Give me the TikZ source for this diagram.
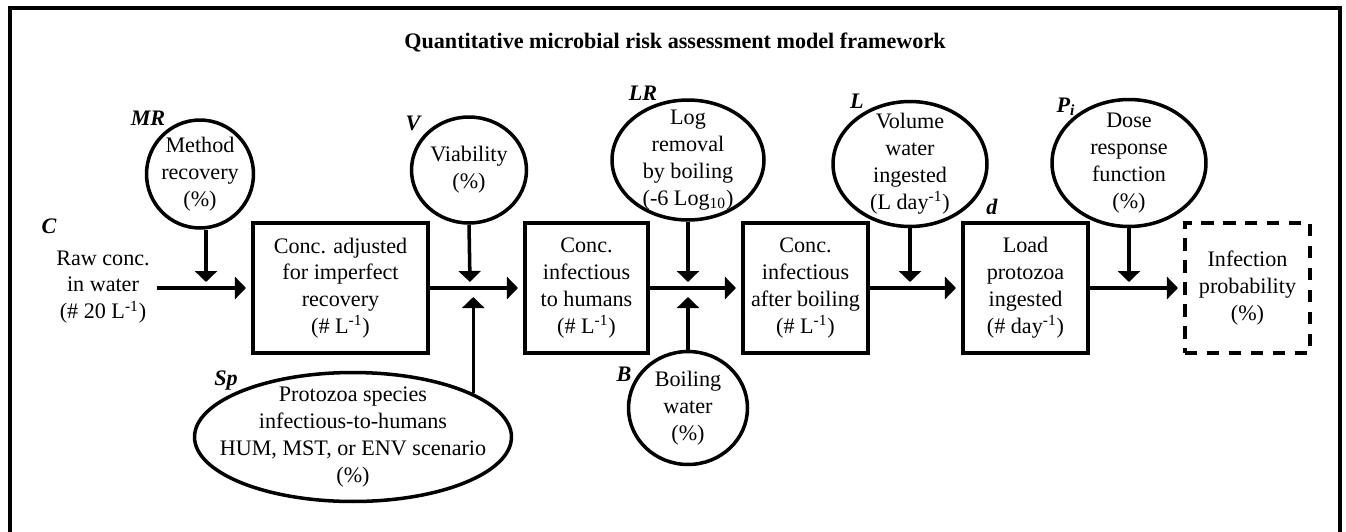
\documentclass[tikz,border=0pt]{standalone}
\usepackage{fontspec}
\setmainfont{Liberation Serif}
\usetikzlibrary{arrows.meta, shapes, positioning}

\tikzset{
  txt/.style={align=center, font=\fontsize{12.6}{15.3}\selectfont},
  stage/.style={txt, draw, line width=2pt, minimum height=2.6cm, inner sep=0pt},
  outcome/.style={stage, dash pattern=on 7pt off 5.5pt},
  bubble/.style={txt, ellipse, draw, line width=2pt, inner sep=-20pt},
  var/.style={font=\fontsize{12.6}{15.3}\selectfont\bfseries\itshape, inner sep=0pt},
  flow/.style={line width=2pt, -{Triangle[length=0.22cm, width=0.44cm]}, shorten >=3pt},
  drop/.style={line width=2pt, -{Triangle[length=0.22cm, width=0.44cm]}},
}

\begin{document}
\begin{tikzpicture}[x=0.02cm, y=-0.02cm]
    \useasboundingbox (0,0) rectangle (1346,531);
    % frame %
      \draw[line width=2pt] (10,540) -- (10,8) -- (1340,8) -- (1340,540);
      \node[txt, font=\fontsize{12.6}{15.3}\selectfont\bfseries] (title) at (675,42) {Quantitative microbial risk assessment model framework};

    % nodes %
      \node[txt] (raw) at (103,287) {Raw conc.\\in water\\(\# 20 L\textsuperscript{-1})};
      \node[stage, minimum width=3.5cm] (adj) at (340.5,288) {Conc. adjusted\\for imperfect\\recovery\\(\# L\textsuperscript{-1})};
      \node[stage, minimum width=2.46cm] (hum) at (586.5,288) {Conc.\\infectious\\to humans\\(\# L\textsuperscript{-1})};
      \node[stage, minimum width=2.5cm] (boil) at (805.5,288) {Conc.\\infectious\\after boiling\\(\# L\textsuperscript{-1})};
      \node[stage, minimum width=2.5cm] (load) at (1025.5,288) {Load\\protozoa\\ingested\\(\# day\textsuperscript{-1})};
      \node[outcome, minimum width=2.5cm] (inf) at (1247.5,288) {Infection\\probability\\(\%)};

      \node[bubble, minimum width=2.14cm, minimum height=2.16cm] (mr) at (200,174) {Method\\recovery\\(\%)};
      \node[bubble, minimum width=2.3cm, minimum height=2.12cm] (v) at (469,170) {Viability\\(\%)};
      \node[bubble, minimum width=3.04cm, minimum height=2.4cm] (lr) at (688,160) {Log\\removal\\by boiling\\(-6 Log\textsubscript{10})};
      \node[bubble, minimum width=3.08cm, minimum height=2.5cm] (l) at (910,164) {Volume\\water\\ingested\\(L day\textsuperscript{-1})};
      \node[bubble, minimum width=3.08cm, minimum height=2.54cm] (pi) at (1129,163) {Dose\\response\\function\\(\%)};
      \node[bubble, minimum width=2.38cm, minimum height=2.26cm] (b) at (688,408) {Boiling\\water\\(\%)};
      \node[bubble, minimum width=6.34cm, minimum height=2.58cm] (sp) at (353,437) {Protozoa species\\infectious-to-humans\\HUM, MST, or ENV scenario\\(\%)};

      % variable names %
      \node[var] (c-lab) at (49,226) {C};
      \node[var] (mr-lab) at (148,118) {MR};
      \node[var] (v-lab) at (413,123) {V};
      \node[var] (lr-lab) at (643,93) {LR};
      \node[var] (l-lab) at (857,101) {L};
      \node[var] (pi-lab) at (1066,107) {P\textsubscript{i}};
      \node[var] (d-lab) at (992,207) {d};
      \node[var] (b-lab) at (624,374) {B};
      \node[var] (sp-lab) at (226,381) {Sp};

      \coordinate (raw-out) at (157,288);
      \coordinate (mr-in) at (206,282);
      \coordinate (v-in) at (470,282);
      \coordinate (sp-in) at (470,297);
      \coordinate (lr-in) at (688,282);
      \coordinate (b-in) at (688,297);
      \coordinate (l-in) at (910,282);
      \coordinate (pi-in) at (1129,282);

    % edges %
      \draw[flow] (raw-out) -- (adj);
      \draw[flow] (adj) -- (hum);
      \draw[flow] (hum) -- (boil);
      \draw[flow] (boil) -- (load);
      \draw[flow] (load) -- (inf);

      \draw[drop] (mr-in |- mr.south) -- (mr-in);
      \draw[drop] (v.south) -- (v-in);
      \draw[drop] (lr.south) -- (lr-in);
      \draw[drop] (l.south) -- (l-in);
      \draw[drop] (pi.south) -- (pi-in);
      \draw[drop] (b.north) -- (b-in);
      \draw[drop] (sp.20) -- (sp.20 |- sp-in);
\end{tikzpicture}
\end{document}
